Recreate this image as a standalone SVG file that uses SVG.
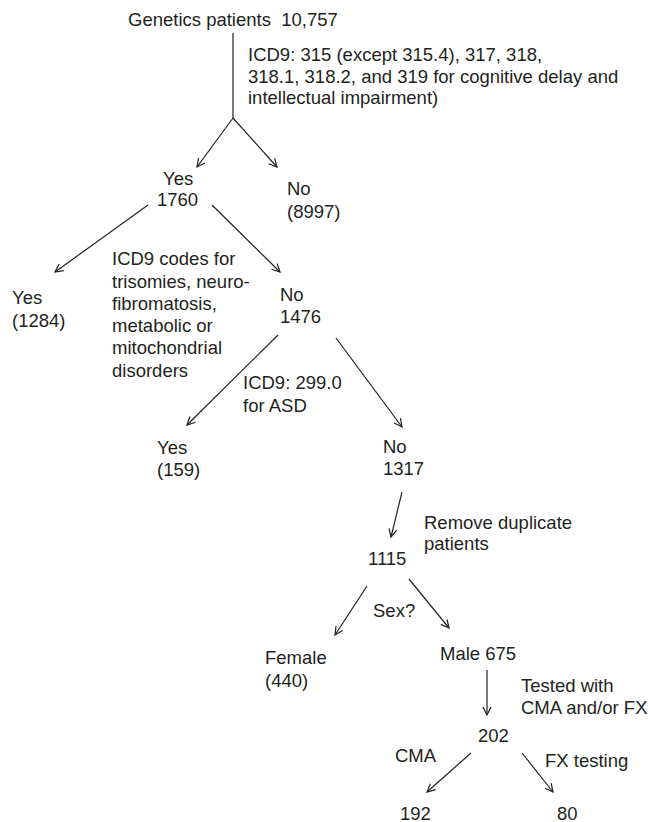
<svg xmlns="http://www.w3.org/2000/svg" width="649" height="822" viewBox="0 0 649 822">
<style>
  text { font-family: "Liberation Sans", Arial, sans-serif; font-size: 18.5px; fill: #231f20; white-space: pre; }
  .c line { stroke: #231f20; stroke-width: 1.2; fill: none; }
  .c line.a { marker-end: url(#ah); }
</style>
<defs>
  <marker id="ah" viewBox="0 0 10 10" refX="9" refY="5" markerWidth="10" markerHeight="10" markerUnits="userSpaceOnUse" orient="auto">
    <path d="M1,1 L9,5 L1,9" fill="none" stroke="#231f20" stroke-width="1.2"/>
  </marker>
</defs>
<rect width="649" height="822" fill="#ffffff"/>
<g id="connectors" class="c">
  <line x1="233" y1="33" x2="233" y2="118"/>
  <line class="a" x1="233" y1="118" x2="197" y2="167"/>
  <line class="a" x1="233" y1="118" x2="277" y2="167"/>
  <line class="a" x1="148" y1="205" x2="55" y2="272"/>
  <line class="a" x1="212" y1="205" x2="280" y2="272"/>
  <line class="a" x1="278" y1="335" x2="187" y2="425"/>
  <line class="a" x1="336" y1="338" x2="402" y2="427"/>
  <line class="a" x1="402" y1="492" x2="391" y2="537"/>
  <line class="a" x1="367" y1="586" x2="335" y2="635"/>
  <line class="a" x1="409" y1="579" x2="449" y2="628"/>
  <line class="a" x1="487" y1="670" x2="487" y2="715"/>
  <line class="a" x1="471" y1="753" x2="427" y2="792"/>
  <line class="a" x1="522" y1="753" x2="553" y2="792"/>
</g>
<g id="root"><text x="128" y="26">Genetics patients  10,757</text></g>
<g id="crit1">
  <text x="248" y="60.5">ICD9: 315 (except 315.4), 317, 318,</text>
  <text x="248" y="82.5">318.1, 318.2, and 319 for cognitive delay and</text>
  <text x="248" y="103.5">intellectual impairment)</text>
</g>
<g id="yes1760"><text x="163" y="184.5">Yes</text><text x="157" y="206">1760</text></g>
<g id="no8997"><text x="287" y="194.5">No</text><text x="287" y="218">(8997)</text></g>
<g id="yes1284"><text x="12" y="303.5">Yes</text><text x="12" y="326.5">(1284)</text></g>
<g id="crit2">
  <text x="112" y="264.5">ICD9 codes for</text>
  <text x="112" y="287.5">trisomies, neuro-</text>
  <text x="112" y="309.5">fibromatosis,</text>
  <text x="112" y="331.5">metabolic or</text>
  <text x="112" y="353.5">mitochondrial</text>
  <text x="112" y="376.5">disorders</text>
</g>
<g id="no1476"><text x="280" y="300.5">No</text><text x="280" y="322.5">1476</text></g>
<g id="crit3"><text x="243" y="388.5">ICD9: 299.0</text><text x="243" y="411.5">for ASD</text></g>
<g id="yes159"><text x="157" y="453.5">Yes</text><text x="157" y="475.5">(159)</text></g>
<g id="no1317"><text x="383" y="452.5">No</text><text x="383" y="474.5">1317</text></g>
<g id="dedup"><text x="424" y="528.5">Remove duplicate</text><text x="424" y="549.5">patients</text></g>
<g id="n1115"><text x="368" y="564.5">1115</text></g>
<g id="sex"><text x="373" y="617">Sex?</text></g>
<g id="female"><text x="265" y="663.5">Female</text><text x="265" y="686.5">(440)</text></g>
<g id="male"><text x="440" y="659.5">Male 675</text></g>
<g id="tested"><text x="521" y="691.5">Tested with</text><text x="521" y="713.5">CMA and/or FX</text></g>
<g id="n202"><text x="478" y="741.5">202</text></g>
<g id="cma"><text x="395" y="761.5">CMA</text></g>
<g id="fx"><text x="545" y="766.5">FX testing</text></g>
<g id="n192"><text x="400" y="819.5">192</text></g>
<g id="n80"><text x="557" y="819.5">80</text></g>
</svg>
